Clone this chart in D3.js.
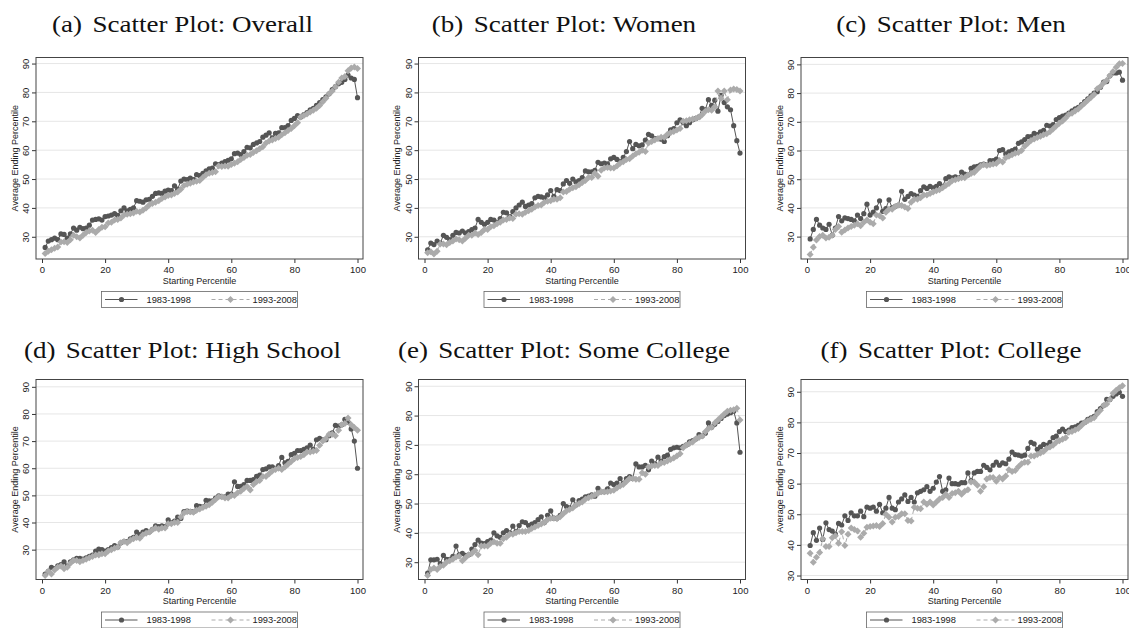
<!DOCTYPE html>
<html>
<head>
<meta charset="utf-8">
<script src="https://cdn.jsdelivr.net/npm/d3@7"></script>
<style>
body { margin: 0; background: #fff; }
svg { display: block; }
</style>
</head>
<body>
<svg id="chart" width="1129" height="628"></svg>
<script>
var percentiles = d3.range(1, 101);

var overall8398 = [26.3,28.5,29,29.5,29,31,30.8,29.5,31,33, 32.3,33.3,32.8,33,34,35.8,36,36.2,35.8,37, 37.2,37.5,38,37.4,39,40,39,39.5,40,42.5, 42.3,42,42.8,43,44,45,45.2,45,45.8,46.2, 46,47.6,46.5,49.3,50,49.8,50.3,49.8,51.5,51.2, 52,52.8,53.5,53.8,55.3,55,55.5,56,56.5,57, 58.8,59,58.5,59.5,61,60.8,62,62.5,63,64.5, 65.2,66,64.3,65.8,66,67.8,67.8,68.5,70.3,71, 72,71.5,72.3,73,74,74.5,75.5,76.5,77.5,78.5, 79.5,81,82,83,83.5,84.5,86,85,84.5,78.2];
var overall9308 = [24.2,25,25.5,26,26.5,28.2,28.3,28,29,30.5, 30,29.6,30.5,31.5,32,32.3,31.5,32.5,33.3,33.5, 34.8,35,35.8,36,36.5,37.5,37.8,38,38.2,38.8, 38.6,39.2,40,41,41.5,42,42.5,43.3,43.8,44.3, 44.5,45,45.5,46.5,47.8,48.2,48.5,49,49.2,49.5, 50.5,51.5,52,52.3,52.5,54.5,54.3,54.5,54.4,55, 55.5,56,56.8,57.5,58.2,58.5,59.2,59.8,60.5,61.2, 62.5,63.2,63.5,64,64.5,65.3,66,66.8,67.5,68.5, 69.5,71.5,72,72.5,73.2,73.8,74.5,75.5,76.8,78, 79.5,80.5,82,83.5,85,85.5,87.5,88.5,88.8,88.3];

var women8398 = [25.5,27.8,27.3,28.5,27.8,30.5,29.8,29,30.5,31.5, 31.3,32,31.3,31.8,32.5,33,36,35,34.3,35, 36,35.8,35,36.3,38.5,38.3,37,38.7,40,41, 42,40.5,41,41.5,43.5,44,43.8,43.5,44.5,46, 44,46.3,46,48.3,49.5,48.5,50,49,49.5,50.5, 52.8,52.5,52.5,53,55.8,55.3,55.5,55.3,57,57.5, 56.8,56,57.5,59.5,63,60.5,62,61.5,61.8,63.5, 65.5,65,64,64,63.8,63,65,67,67.5,69.5, 70.5,69.5,68.5,69.5,70.5,71,71.5,74.5,74,77.5, 75.5,77.3,73.5,79,76.5,75,74,68.5,63.3,59];
var women9308 = [24.5,24.8,24,25,27.5,27.5,27.2,28,28.5,29.2, 29,28.5,29.5,30.5,30.5,31.3,30.8,31.5,32.5,32.5, 33.5,33.8,34.5,35,35.8,36,36.5,36.3,37.8,38, 37.8,38.5,39,39.5,40.3,40.8,41,42,42.3,42.5, 43,43,43.5,45.5,45.7,46.5,47,47.3,48,48.8, 49.5,50.5,50.5,52,51,53,53.8,54,53.8,53.8, 54.5,55.5,56,56.8,57,58,58.8,59.3,60,59.5, 62.5,63,63.5,64,64.5,64.5,65.5,66,66.5,67, 67.5,70,70.2,70.5,70.8,71,71.5,72.3,73.5,74, 73.8,75,80.5,78,80.5,77.5,80.8,81.2,81,80.5];

var men8398 = [29.2,32.5,36,34,33,32.5,34.3,30.5,33,37, 35.5,36.5,36.3,36,35.5,37.5,36.3,38,41.3,37.5, 38.5,40,42.5,38.8,39.8,42.8,40,40.5,41,45.8, 43,44,45,44.5,44,46,47.3,46.8,47.5,47, 47.5,48.5,47.5,50.2,50.8,50.5,50.8,50.5,52.5,51.8, 51.5,53.8,54.3,54.5,55,55.3,55,56.5,56.5,57, 60,60.3,58.8,59.5,60,60.5,62.5,63,63.8,64.8, 64.8,66,65.5,66.5,67,68.8,68.5,69,70.8,71.5, 72,72.3,73,73.8,74.5,75,76,77,78,79, 80,80.5,82,83.8,84,86,87,87,87.3,84.5];
var men9308 = [23.8,26.3,28.8,30,30.5,29.5,29.8,30.5,32.5,33.5, 31.5,32.3,33,33.5,34,34.5,33.8,35,35.8,35, 34.5,37.5,37.3,36.5,38.5,39.5,39.5,40.5,41,40.8, 40.3,39.8,42,43,43,43.5,44.5,44.5,45,45.5, 46,46.3,47,47.8,48.5,49.5,49.8,50.2,50.5,50.5, 51.5,52,52.3,53.5,54.5,55,54.8,55,55.3,55.5, 56.5,56,57.5,58,58.5,59,59.3,60,61.5,62.5, 63.5,64,64.5,65,65.5,65.8,66.5,67.5,68.5,69.5, 70.3,71.3,72.5,73,73.8,74.5,75.5,76.5,77.5,78.5, 79.5,81.5,82.3,83.5,84.5,86,87.5,89,90.2,90.3];

var highSchool8398 = [21,22,23.5,23,24,24.5,25.5,24,25.5,26.2, 26.8,26.8,26.5,27,27.5,28,29.5,30.2,30,29.5, 30,30.8,31.5,31,32.5,33,33,34,34.5,36.5, 35.5,36.5,37,36.5,37.5,38.8,38.5,38.8,38.5,41, 40,40.5,42,41.5,44,44.2,44,44,46.2,46, 45.8,48.2,48,48,49,49.8,49.5,49.5,50.5,50.5, 55,53.3,53.3,54,55.5,55.5,55.8,57,57.5,59.5, 59.8,60.5,60.5,60,61,64,62,62.5,65,65.5, 66.5,66.5,67,67.5,68.5,67,70.5,71,70.5,70.5, 72,73,75.8,75.5,76,78,77,74.5,70,60];
var highSchool9308 = [20.5,22,21,22.5,23.5,24,23,23.5,25,26, 26,25.5,26,26.5,27,27.5,28,28,28.5,28.5, 29.5,30,30.5,31,32.5,33,32.5,33.5,34,34.5, 34.2,35.5,36,36.5,37.3,38,37.5,38,38,39.5, 39.5,40,40,42,43.5,44,44,43.8,44.5,45, 45.5,46,46.5,47.5,48.5,49.5,49.5,49,49,50, 50,51,51.5,52.5,53.3,52,54,55,55.5,57, 57,58,59,59.5,60,59.5,60.5,61.5,62.5,63.5, 64,64.3,65,66,66,66.3,66.5,68.5,70,71, 72.5,72.5,72,74,76,76.5,78.5,76,75,74];

var someCollege8398 = [26.3,30.8,30.8,31,29.5,32.3,31,31,32,35.5, 32.5,33,32.3,32.5,34.5,36,37.5,36.5,36.3,37, 37.5,40,39,38.5,40,40.8,40,42.3,40.5,42.5, 43.8,43.5,42.5,43,43.5,44.5,45.5,43.5,46,47.5, 45,45,46,50,49,48.5,51.3,49.5,51,51.5, 52.3,52.5,53,52.5,55.2,54,54,55,57,56.5, 57,58.5,57,58.5,59.2,58.5,63.5,62.5,62.5,63, 61.5,64.5,63.5,65.8,64.5,66,66.5,68.5,69,69.2, 69,69.5,70,71,71.5,72,73.5,73,74,77.5, 76,77,78,79,80,80.5,81,81.5,77.5,67.5];
var someCollege9308 = [25.5,27.5,28,27.5,28.5,29,30,30.5,31,31.8, 32,30.5,31.5,32.5,33,34,32.5,35.5,35.5,35.5, 36.5,37,36.5,36.5,38,38.5,39.5,39.5,40,40.5, 40.5,40.5,40.8,41.5,42,42.5,43,43.5,44.5,45, 45,44.8,45.5,46.5,47.5,48,48.5,49.5,50,50.5, 51.5,52,52.5,53,53.5,54,54,54,54.3,54.5, 55.3,56,56.5,57.5,58.5,58.5,58.3,58.3,60.5,60, 62.5,62.8,63,63,63.8,64,64.5,65,65.5,66.2, 67,69,70,70.5,71,72,72.5,73,74.5,75.5, 76,77.5,78.5,79.5,80.5,81.5,81.8,82,82.5,78.5];

var college8398 = [39.8,44,41.5,45.5,41.8,47.2,45,44.5,43.5,47, 46.5,49.5,48,50.5,49.5,49.5,51,49.2,52.3,52, 52.3,51,53.2,50.5,52,55.5,52,51.5,54,55, 56.3,54.2,55.5,54,57,57.5,58,59,57.5,58.5, 60.5,62.3,57.5,58,61.8,60,60,59.8,60.3,60.3, 63.5,61,63.5,64,64,66,65.3,64.5,66,67, 66,66.8,66.5,68,70.3,69.5,69.3,69,69.3,71.5, 73.5,73,71.2,72,72.8,72.5,73.5,75,75.5,77, 77.8,77,77.5,78.3,78.5,79,79.8,80,81,81.5, 82,83.5,84.5,85.5,87.5,87.5,88.5,89.3,89.8,88.5];
var college9308 = [37.3,34.3,36,37.5,42,39.5,39.5,42.3,43,40.5, 44.3,39.8,43.5,45.5,45,44.5,42.5,43.8,45.8,46, 46.2,46.3,46,47,50,49,47.5,49,49.3,50.2, 50.2,48,47.8,52.3,52,51.8,54,53.3,54,53, 54,55,55.5,56.5,55.5,56.8,57,57.5,56.5,57.5, 58,60.5,60.5,59.5,57.5,59,61.5,62,62,60.8, 62,61.5,62.5,64.5,64,64.3,65.5,66.5,67,67, 69,69,69.5,70,70.5,71.5,72,72.5,73.5,74, 74.5,75,76.8,77,77.5,78,79,80,80.5,81, 81.5,82.8,84,85.5,86,87.5,89.5,90.5,91.3,92];

var panelLetters = ["(a)", "(b)", "(c)", "(d)", "(e)", "(f)"];
var panelNames = ["Scatter Plot: Overall", "Scatter Plot: Women", "Scatter Plot: Men",
                  "Scatter Plot: High School", "Scatter Plot: Some College", "Scatter Plot: College"];
var earlySeries = [overall8398, women8398, men8398, highSchool8398, someCollege8398, college8398];
var lateSeries = [overall9308, women9308, men9308, highSchool9308, someCollege9308, college9308];
var legendLabels = ["1983-1998", "1993-2008"];
var xTicks = [0, 20, 40, 60, 80, 100];
var yTicks = [30, 40, 50, 60, 70, 80, 90];
// y range shown in each panel (Stata picked a slightly different one per panel)
var yDomains = [[22.3, 92.1], [22.3, 92.1], [22.2, 92.4], [19, 92.7], [24.1, 92.3], [28.7, 94]];

var colLeft = [36, 418.5, 801];
var rowTop = [57.5, 379.5];
var rowHeight = [201.5, 200];
var titleCenter = [182.5, 564, 951];
var titleBase = [31.5, 357.5];
var frameWidth = 327;

var darkGray = "#555555";
var lightGray = "#ababab";
var sans = "'Liberation Sans', Arial, Helvetica, sans-serif";

var svg = d3.select("#chart");

function diamond(size) {
	return "M0," + (-size) + "L" + size + ",0L0," + size + "L" + (-size) + ",0Z";
}

function drawPanel(i) {
	var col = i % 3, row = Math.floor(i / 3);
	var w = frameWidth, h = rowHeight[row];
	var g = svg.append("g")
	    .attr("transform", "translate(" + colLeft[col] + "," + rowTop[row] + ")");

	var x = d3.scaleLinear().domain([0, 100]).range([6, w - 5.5]);
	var y = d3.scaleLinear().domain(yDomains[i]).range([h, 0]);

	// title: the figure in the paper was stretched a little sideways
	var title = svg.append("text")
	    .attr("transform", "translate(" + titleCenter[col] + "," + titleBase[row] + ") scale(1.15,1)")
	    .attr("text-anchor", "middle")
	    .style("font-family", "'Liberation Serif', 'Times New Roman', serif")
	    .style("font-size", "23.5px")
	    .style("fill", "#111");
	title.append("tspan").text(panelLetters[i]);
	title.append("tspan").attr("dx", 9).text(panelNames[i]);

	// grid
	g.selectAll("line.grid")
	    .data(yTicks)
	  .enter().append("line").classed("grid", true)
	    .attr("x1", 0).attr("x2", w)
	    .attr("y1", function (d) { return y(d); })
	    .attr("y2", function (d) { return y(d); })
	    .style("stroke", "#e6e6e6")
	    .style("stroke-width", 1);

	// axes
	var yAxis = g.append("g").call(d3.axisLeft(y).tickValues(yTicks).tickSize(4).tickSizeOuter(0));
	yAxis.select(".domain").remove();
	yAxis.selectAll("line").style("stroke", "#333");
	yAxis.selectAll("text")
	    .attr("transform", "rotate(-90)")
	    .attr("x", 0).attr("y", -7).attr("dy", 0)
	    .attr("text-anchor", "middle")
	    .style("font-family", sans).style("font-size", "9.5px").style("fill", "#222");

	var xAxis = g.append("g")
	    .attr("transform", "translate(0," + h + ")")
	    .call(d3.axisBottom(x).tickValues(xTicks).tickSize(4).tickSizeOuter(0));
	xAxis.select(".domain").remove();
	xAxis.selectAll("line").style("stroke", "#333");
	xAxis.selectAll("text")
	    .attr("y", 14).attr("dy", 0)
	    .style("font-family", sans).style("font-size", "9.5px").style("fill", "#222");

	g.append("text")
	    .attr("transform", "translate(-18.5," + (h / 2) + ") rotate(-90)")
	    .attr("text-anchor", "middle")
	    .style("font-family", sans).style("font-size", "9px").style("fill", "#222")
	    .text("Average Ending Percentile");

	g.append("text")
	    .attr("x", w / 2).attr("y", h + 24.5)
	    .attr("text-anchor", "middle")
	    .style("font-family", sans).style("font-size", "9px").style("fill", "#222")
	    .text("Starting Percentile");

	// series
	var early = percentiles.map(function (p, k) { return [p, earlySeries[i][k]]; });
	var late = percentiles.map(function (p, k) { return [p, lateSeries[i][k]]; });
	var line = d3.line()
	    .x(function (d) { return x(d[0]); })
	    .y(function (d) { return y(d[1]); });

	g.append("path")
	    .attr("d", line(early))
	    .style("fill", "none").style("stroke", darkGray).style("stroke-width", 1);
	g.selectAll("circle.early")
	    .data(early)
	  .enter().append("circle").classed("early", true)
	    .attr("cx", function (d) { return x(d[0]); })
	    .attr("cy", function (d) { return y(d[1]); })
	    .attr("r", 2.6)
	    .style("fill", darkGray);

	g.append("path")
	    .attr("d", line(late))
	    .style("fill", "none").style("stroke", lightGray).style("stroke-width", 1)
	    .style("stroke-dasharray", "4,3");
	g.selectAll("path.late")
	    .data(late)
	  .enter().append("path").classed("late", true)
	    .attr("transform", function (d) { return "translate(" + x(d[0]) + "," + y(d[1]) + ")"; })
	    .attr("d", diamond(3.5))
	    .style("fill", lightGray);

	// frame
	g.append("rect")
	    .attr("width", w).attr("height", h)
	    .style("fill", "none").style("stroke", "#444").style("stroke-width", 1);

	// legend
	var lg = g.append("g").attr("transform", "translate(" + (w / 2 - 98) + "," + (h + 32.5) + ")");
	lg.append("rect")
	    .attr("width", 196).attr("height", 16)
	    .style("fill", "#fff").style("stroke", "#666").style("stroke-width", 0.8);
	lg.append("line")
	    .attr("x1", 3.5).attr("x2", 36).attr("y1", 8).attr("y2", 8)
	    .style("stroke", darkGray).style("stroke-width", 1);
	lg.append("circle").attr("cx", 20).attr("cy", 8).attr("r", 2.6).style("fill", darkGray);
	lg.append("line")
	    .attr("x1", 110).attr("x2", 148).attr("y1", 8).attr("y2", 8)
	    .style("stroke", lightGray).style("stroke-width", 1).style("stroke-dasharray", "4,3");
	lg.append("path").attr("transform", "translate(129,8)").attr("d", diamond(3.5)).style("fill", lightGray);
	lg.selectAll("text.leg")
	    .data(legendLabels)
	  .enter().append("text").classed("leg", true)
	    .attr("x", function (d, k) { return k === 0 ? 45 : 151; })
	    .attr("y", 11.3)
	    .style("font-family", sans).style("font-size", "9.3px").style("fill", "#222")
	    .text(function (d) { return d; });
}

for (var i = 0; i < 6; i++) {
	drawPanel(i);
}
</script>
</body>
</html>
